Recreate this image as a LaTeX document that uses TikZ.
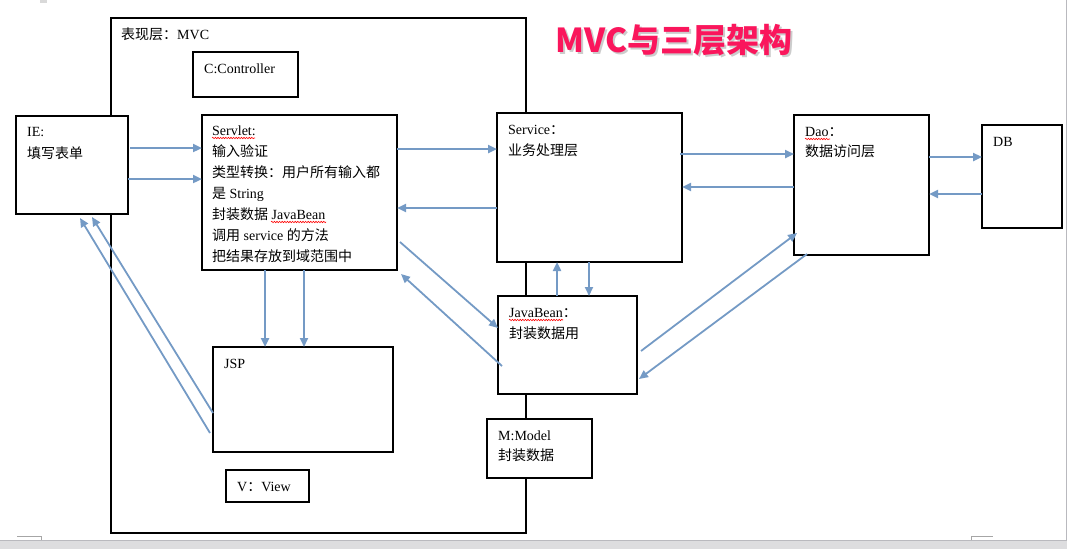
\documentclass[tikz,border=0pt]{standalone}
\usepackage{fontspec}
\setmainfont{Liberation Serif}
\newfontfamily\cjk{Noto Sans CJK SC}
\usetikzlibrary{arrows.meta,decorations.pathmorphing}
\definecolor{arrowblue}{RGB}{116,154,197}
\definecolor{titlepink}{RGB}{250,22,92}
\definecolor{bandgray}{RGB}{221,221,223}
\definecolor{edgegray}{RGB}{185,185,190}
\newcommand\zh[1]{{\cjk #1}}
\begin{document}
\begin{tikzpicture}[x=1pt,y=-1pt,
  box/.style={draw=black,line width=1.3pt,fill=white,anchor=north west,inner sep=0pt,outer sep=0pt},
  frame/.style={draw=black,line width=1.3pt,anchor=north west,inner sep=0pt,outer sep=0pt},
  lbl/.style={anchor=base west,inner sep=0pt,font=\fontsize{14}{17}\selectfont},
  conn/.style={draw=arrowblue,line width=1.8pt,-{Triangle[length=9pt,width=8pt]}},
  hconn/.style={conn,line width=2.3pt},
  squig/.style={draw=red,line width=0.6pt,decorate,decoration={snake,amplitude=0.7pt,segment length=2.6pt}}]
\useasboundingbox (0,0) rectangle (1067,549);
% page decorations
\fill[bandgray] (0,540) rectangle (1067,549);
\draw[edgegray,line width=1pt] (0,540) -- (1067,540);
\draw[edgegray,line width=1pt] (1066,0) -- (1066,540);
\draw[gray!70,line width=0.8pt] (17,536) -- (41,536) -- (41,540);
\draw[gray!70,line width=0.8pt] (971,540) -- (971,536) -- (993,536);
\fill[gray!30] (40,0) rectangle (47,3);
% outer frame
\node[frame,minimum width=415pt,minimum height=515pt] (mvc) at (111,18) {};
% boxes
\node[box,minimum width=105pt,minimum height=45pt] (ctrl) at (193,52) {};
\node[box,minimum width=112pt,minimum height=98pt] (ie) at (16,116) {};
\node[box,minimum width=195pt,minimum height=155pt] (servlet) at (202,115) {};
\node[box,minimum width=185pt,minimum height=149pt] (service) at (497,113) {};
\node[box,minimum width=135pt,minimum height=140pt] (dao) at (794,115) {};
\node[box,minimum width=80pt,minimum height=103pt] (db) at (982,125) {};
\node[box,minimum width=139pt,minimum height=98pt] (jb) at (498,296) {};
\node[box,minimum width=180pt,minimum height=105pt] (jsp) at (213,347) {};
\node[box,minimum width=83pt,minimum height=32pt] (view) at (226,470) {};
\node[box,minimum width=105pt,minimum height=59pt] (model) at (487,419) {};
% title
\node[text=gray,opacity=0.4,font=\cjk\bfseries\fontsize{33}{36}\selectfont,inner sep=0pt] (titleshadow) at (676,42) {MVC与三层架构};
\node[text=titlepink,font=\cjk\bfseries\fontsize{33}{36}\selectfont,inner sep=0pt] (title) at (674,40) {MVC与三层架构};
% texts
\node[lbl] (tmvc) at (121,39) {\zh{表现层：}MVC};
\node[lbl] (tctrl) at (204,73) {C:Controller};
\node[lbl] (tie1) at (27,136) {IE:};
\node[lbl] (tie2) at (27,158) {\zh{填写表单}};
\node[lbl] (ts1) at (212,135) {Servlet:};
\node[lbl] (ts2) at (212,156) {\zh{输入验证}};
\node[lbl] (ts3) at (212,177) {\zh{类型转换：用户所有输入都}};
\node[lbl] (ts4) at (212,198) {\zh{是} String};
\node[lbl] (ts5) at (212,219) {\zh{封装数据} JavaBean};
\node[lbl] (ts6) at (212,240) {\zh{调用} service \zh{的方法}};
\node[lbl] (ts7) at (212,261) {\zh{把结果存放到域范围中}};
\node[lbl] (tsv1) at (508,134) {Service\zh{：}};
\node[lbl] (tsv2) at (508,155) {\zh{业务处理层}};
\node[lbl] (tdao1) at (805,136) {Dao\zh{：}};
\node[lbl] (tdao2) at (805,156) {\zh{数据访问层}};
\node[lbl] (tdb) at (993,146) {DB};
\node[lbl] (tjb1) at (509,317) {JavaBean\zh{：}};
\node[lbl] (tjb2) at (509,338) {\zh{封装数据用}};
\node[lbl] (tjsp) at (224,368) {JSP};
\node[lbl] (tview) at (237,491) {V\zh{：}View};
\node[lbl] (tm1) at (498,440) {M:Model};
\node[lbl] (tm2) at (498,460) {\zh{封装数据}};
% spell-check squiggles
\draw[squig] (212,138) -- (255,138);
\draw[squig] (271,222) -- (326,222);
\draw[squig] (509,320) -- (563,320);
\draw[squig] (805,139) -- (830,139);
% connectors
\draw[hconn] ([xshift=2pt]ie.east |- 0,148) -- (servlet.west |- 0,148);
\draw[hconn] (ie.east |- 0,179) -- (servlet.west |- 0,179);
\draw[hconn] (servlet.east |- 0,149) -- (service.west |- 0,149);
\draw[hconn] (service.west |- 0,208) -- (servlet.east |- 0,208);
\draw[hconn] ([xshift=-2pt]service.east |- 0,154) -- (dao.west |- 0,154);
\draw[hconn] (dao.west |- 0,187) -- (service.east |- 0,187);
\draw[hconn] (dao.east |- 0,157) -- (db.west |- 0,157);
\draw[hconn] (db.west |- 0,194) -- (dao.east |- 0,194);
\draw[conn] ([xshift=3pt]servlet.east |- 0,242) -- (jb.west |- 0,328);
\draw[conn] ([xshift=4pt]jb.west |- 0,366) -- ([shift={(4,4)}]servlet.south east);
\draw[conn,line width=2.6pt] (265,0 |- servlet.south) -- (265,0 |- jsp.north);
\draw[conn] (304,0 |- servlet.south) -- (304,0 |- jsp.north);
\draw[conn] ([xshift=-3pt]jsp.west |- 0,433) -- ([shift={(8,4)}]ie.south);
\draw[conn] (jsp.west |- 0,413) -- ([shift={(20,3)}]ie.south);
\draw[hconn] (557,0 |- jb.north) -- (557,0 |- service.south);
\draw[conn] (589,0 |- service.south) -- (589,0 |- jb.north);
\draw[conn] ([xshift=4pt]jb.east |- 0,351) -- ([shift={(3,-22)}]dao.south west);
\draw[conn] ([shift={(13,-1)}]dao.south west) -- ([xshift=2pt]jb.east |- 0,379);
\end{tikzpicture}
\end{document}
